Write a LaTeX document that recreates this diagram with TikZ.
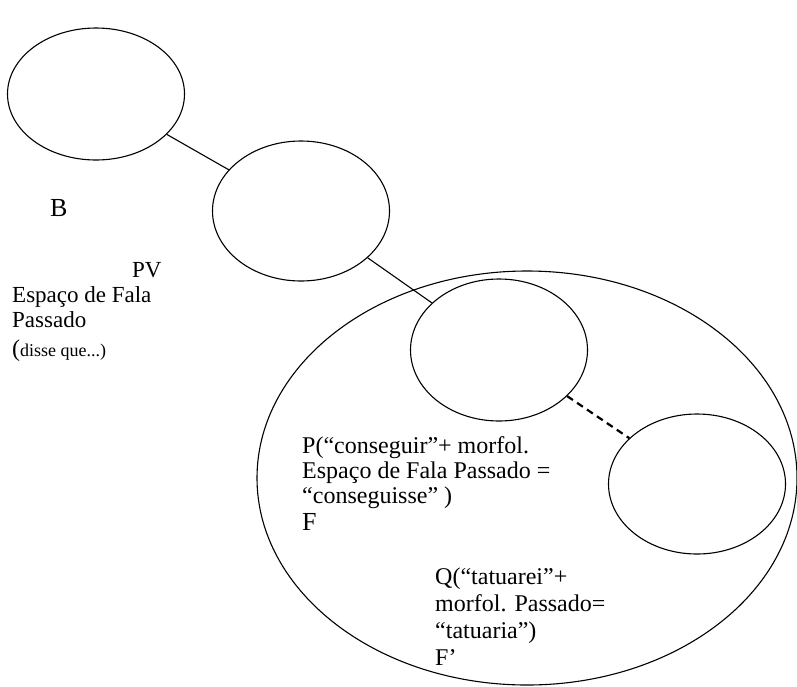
\documentclass[tikz,border=0pt]{standalone}
\usepackage{fontspec}
\setmainfont{Liberation Serif}
\usetikzlibrary{shapes.geometric}
\begin{document}
\begin{tikzpicture}[x=1pt,y=-1pt,
	bubble/.style={draw, ellipse, inner sep=0pt, line width=1.1pt, minimum width=177pt, minimum height=140pt},
	lbl/.style={anchor=base west, inner sep=0pt, font=\fontsize{24}{26}\selectfont},
	lblleft/.style={lbl, font=\fontsize{23}{25}\selectfont}]
		\useasboundingbox (0,0) rectangle (797,686);
		\node[bubble, minimum height=132pt] (top) at (96,94) {};
		\node[bubble] (mid) at (301,211) {};
		\node[bubble, minimum height=142pt] (p) at (499,350) {};
		\node[bubble] (q) at (697,484) {};
		\node[bubble, minimum width=540pt, minimum height=414pt] (world) at (527,478) {};
		\draw[line width=1.1pt] (top) -- (mid);
		\draw[line width=1.1pt] (mid) -- (p);
		\draw[line width=2.2pt, dash pattern=on 7pt off 5pt] (p) -- (q);
		\node[lbl, font=\fontsize{26}{28}\selectfont] (b) at (50,216) {B};
		\node[lblleft] (pv) at (132,277) {PV};
		\node[lblleft] (esp) at (12,302) {Espaço de Fala};
		\node[lblleft] (pass) at (12,327) {Passado};
		\node[lbl] (disse) at (12,356) {({\fontsize{18}{20}\selectfont disse que...)}};
		\node[lbl] (pline1) at (302,453) {P(“conseguir”+ morfol.};
		\node[lbl] (pline2) at (302,478) {Espaço de Fala Passado =};
		\node[lbl] (pline3) at (302,503) {“conseguisse” )};
		\node[lbl, font=\fontsize{26}{28}\selectfont] (f) at (302,530) {F};
		\node[lbl] (qline1) at (435,584) {Q(“tatuarei”+};
		\node[lbl] (qline2) at (435,611) {morfol. Passado=};
		\node[lbl] (qline3) at (435,638) {“tatuaria”)};
		\node[lbl] (fprime) at (435,665) {F’};
\end{tikzpicture}
\end{document}
